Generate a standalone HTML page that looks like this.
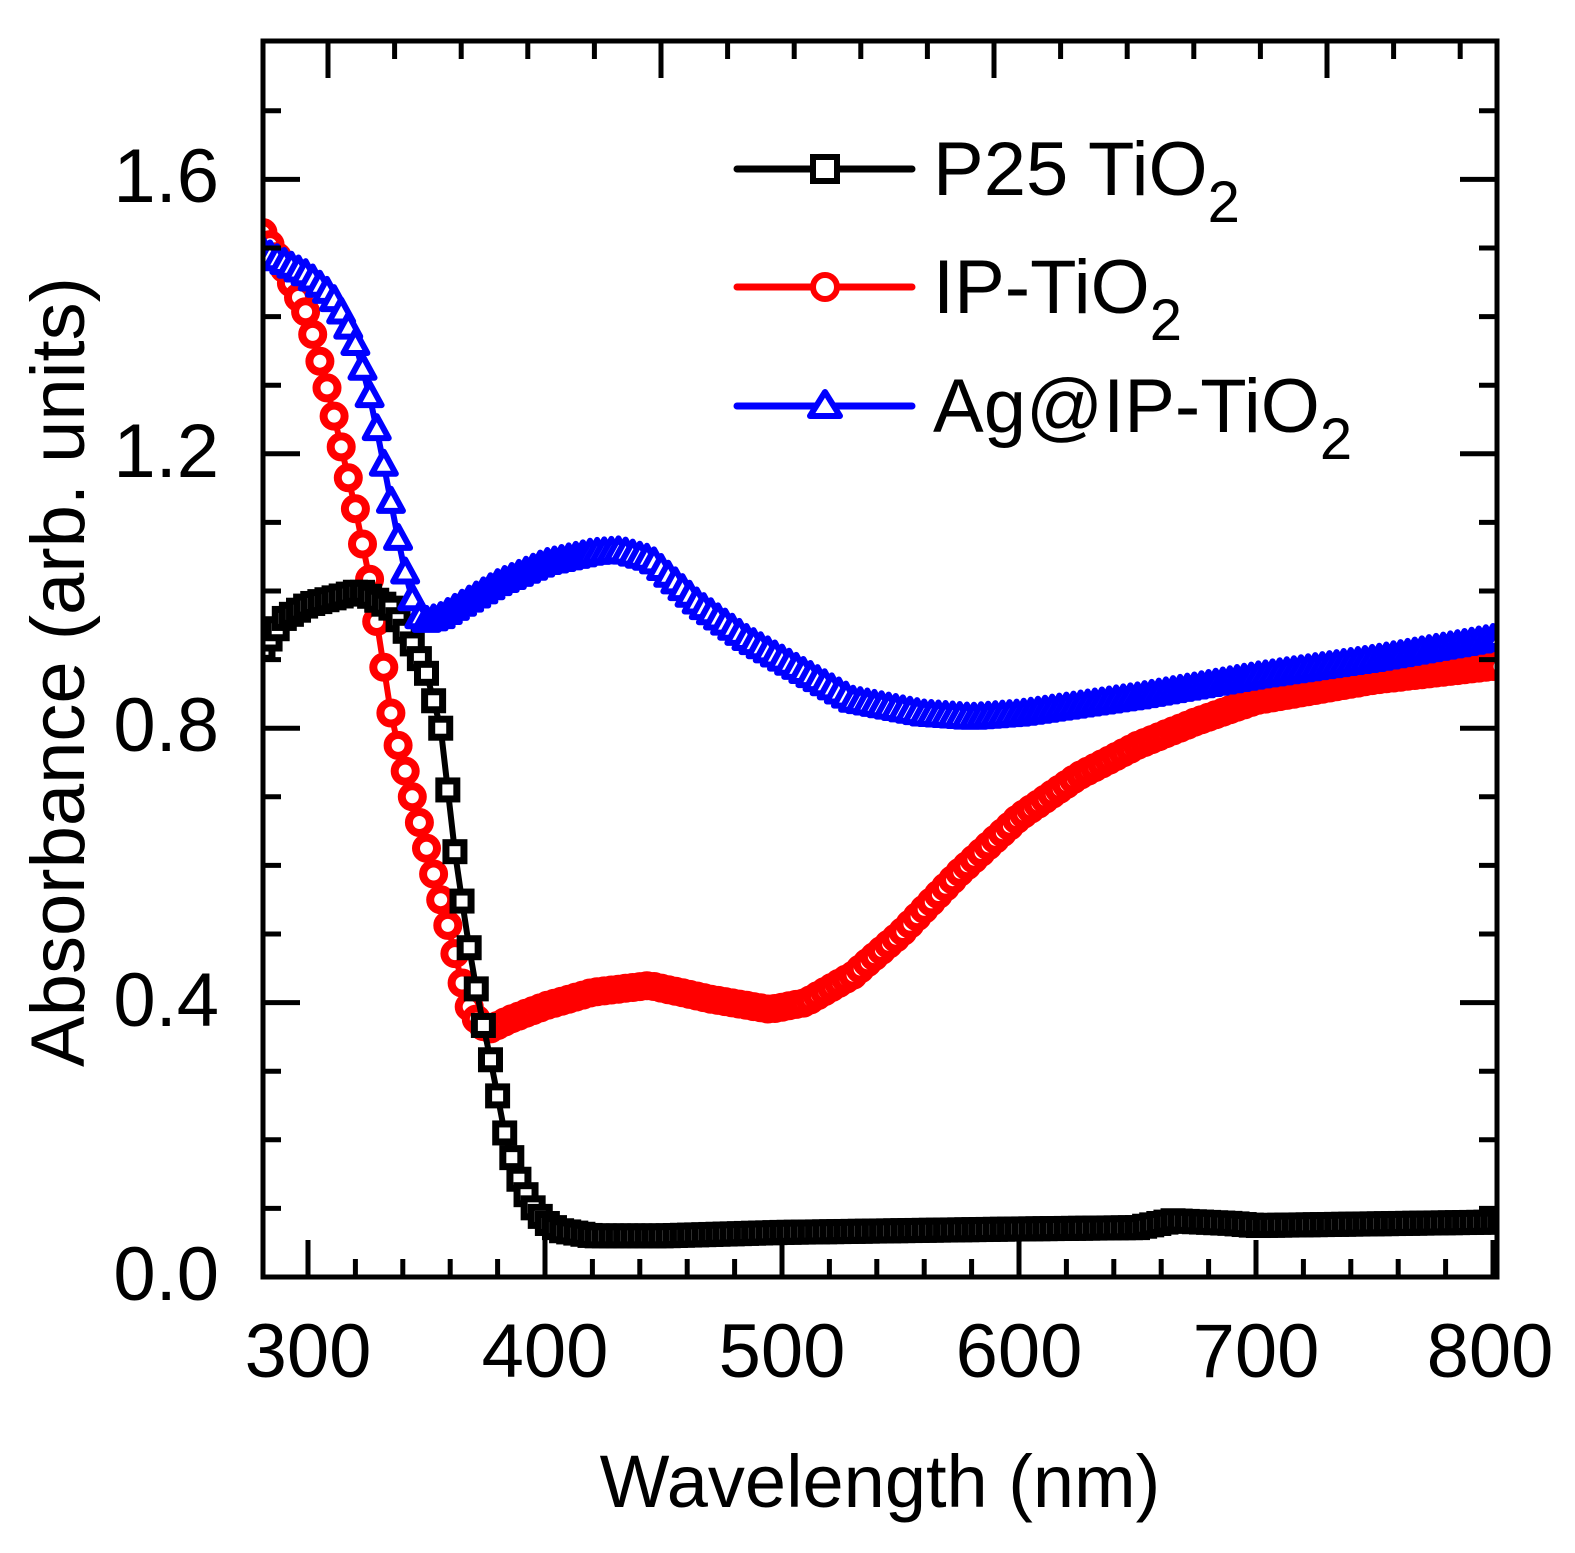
<!DOCTYPE html>
<html><head><meta charset="utf-8"><style>
html,body{margin:0;padding:0;background:#fff}
svg{display:block}
text{font-family:"Liberation Sans",Arial,sans-serif;fill:#000}
</style></head><body>
<svg id="s" width="1575" height="1553" viewBox="0 0 1575 1553" xmlns="http://www.w3.org/2000/svg">
<defs><clipPath id="c"><rect x="263" y="41" width="1234" height="1236"/></clipPath></defs>
<g id="data" clip-path="url(#c)"></g>
<rect x="263" y="41" width="1234" height="1236" fill="none" stroke="#000" stroke-width="5"/>
<g id="ticks" stroke="#000" stroke-width="5"></g>
<g font-size="76" text-anchor="middle">
<text x="308" y="1377">300</text><text x="545" y="1377">400</text><text x="782" y="1377">500</text>
<text x="1019" y="1377">600</text><text x="1256" y="1377">700</text><text x="1490" y="1377">800</text>
</g>
<g font-size="76" text-anchor="end">
<text x="219" y="1300">0.0</text><text x="219" y="1026">0.4</text><text x="219" y="751">0.8</text>
<text x="219" y="477">1.2</text><text x="219" y="202">1.6</text>
</g>
<text x="880" y="1507" font-size="74" text-anchor="middle">Wavelength (nm)</text>
<text transform="translate(84,672) rotate(-90)" font-size="76" text-anchor="middle">Absorbance (arb. units)</text>
<g font-size="76">
<line x1="737" y1="169" x2="912" y2="169" stroke="#000" stroke-width="7" stroke-linecap="round"/>
<rect x="813" y="157" width="24" height="24" fill="#fff" stroke="#000" stroke-width="6"/>
<text x="933" y="195">P25 TiO<tspan font-size="58" dy="27">2</tspan></text>
<line x1="737" y1="287" x2="912" y2="287" stroke="#f00" stroke-width="7" stroke-linecap="round"/>
<circle cx="825" cy="287" r="12" fill="#fff" stroke="#f00" stroke-width="6"/>
<text x="933" y="313">IP-TiO<tspan font-size="58" dy="27">2</tspan></text>
<line x1="737" y1="406" x2="912" y2="406" stroke="#00f" stroke-width="7" stroke-linecap="round"/>
<polygon points="825,392 840,416 810,416" fill="#fff" stroke="#00f" stroke-width="6" stroke-linejoin="round"/>
<text x="933" y="432">Ag@IP-TiO<tspan font-size="58" dy="27">2</tspan></text>
</g>
</svg>
<script>
function X(nm){return 308+(nm-300)*2.37}
function Y(a){return 1277-a*686}
var h='';
for(var v=300;v<=800;v+=20){var x=X(v),L=(v%100==0)?37:18;
h+='<line x1="'+x+'" y1="1277" x2="'+x+'" y2="'+(1277-L)+'"/>';}
for(var j=0;;j++){var x=328+66.6*j;if(x>1490)break;var L=(j%5==0)?37:18;
h+='<line x1="'+x+'" y1="41" x2="'+x+'" y2="'+(41+L)+'"/>';}
for(var i=1;i<=17;i++){var a=i*0.1,y=Y(a),L=(i%4==0)?37:18;
h+='<line x1="263" y1="'+y+'" x2="'+(263+L)+'" y2="'+y+'"/><line x1="1497" y1="'+y+'" x2="'+(1497-L)+'" y2="'+y+'"/>';}
document.getElementById('ticks').innerHTML=h;
var black=[[278,0.90],[290,0.96],[300,0.98],[322,1.0],[335,0.975],[343,0.93],[350,0.88],[356,0.80],[362,0.62],[367,0.50],[372,0.40],[378,0.30],[383,0.21],[388,0.15],[394,0.105],[400,0.08],[406,0.068],[420,0.06],[450,0.06],[500,0.065],[600,0.07],[650,0.072],[665,0.082],[690,0.078],[700,0.075],[800,0.08],[805,0.08]];
var red=[[278,1.54],[290,1.47],[300,1.40],[310,1.27],[320,1.12],[327,1.0],[336,0.8],[344,0.70],[352,0.6],[360,0.50],[367,0.4],[372,0.37],[376,0.36],[385,0.375],[400,0.395],[420,0.415],[444,0.425],[470,0.405],[495,0.39],[510,0.40],[530,0.44],[550,0.50],[575,0.59],[600,0.67],[625,0.73],[650,0.775],[675,0.81],[700,0.84],[750,0.87],[800,0.89],[805,0.89]];
var blue=[[278,1.50],[300,1.46],[310,1.43],[315,1.40],[320,1.36],[325,1.30],[330,1.22],[335,1.13],[340,1.04],[345,0.975],[348,0.955],[355,0.96],[360,0.97],[370,0.99],[380,1.01],[400,1.04],[420,1.055],[432,1.058],[445,1.045],[465,0.98],[485,0.93],[500,0.90],[530,0.84],[560,0.82],[580,0.815],[600,0.82],[650,0.845],[700,0.875],[750,0.90],[800,0.93],[805,0.935]];
function interp(d,nm){for(var i=0;i<d.length-1;i++){if(nm>=d[i][0]&&nm<=d[i+1][0]){var f=(nm-d[i][0])/(d[i+1][0]-d[i][0]);return d[i][1]+f*(d[i+1][1]-d[i][1]);}}return d[d.length-1][1];}
function series(d,col,type){var s='',pts=[];for(var nm=281;nm<=803;nm+=3){pts.push([X(nm),Y(interp(d,nm))]);}
s+='<polyline fill="none" stroke="'+col+'" stroke-width="6" points="'+pts.map(function(p){return p[0].toFixed(1)+','+p[1].toFixed(1)}).join(' ')+'"/>';
pts.forEach(function(p){var x=p[0].toFixed(1),y=p[1].toFixed(1),xn=p[0],yn=p[1];
if(type==0)s+='<rect x="'+(xn-9)+'" y="'+(yn-9)+'" width="18" height="18" fill="#fff" stroke="'+col+'" stroke-width="7"/>';
else if(type==1)s+='<circle cx="'+x+'" cy="'+y+'" r="10.5" fill="#fff" stroke="'+col+'" stroke-width="8"/>';
else s+='<polygon points="'+xn+','+(yn-13)+' '+(xn+12)+','+(yn+9)+' '+(xn-12)+','+(yn+9)+'" fill="#fff" stroke="'+col+'" stroke-width="6" stroke-linejoin="round"/>';});
return s;}
document.getElementById('data').innerHTML=series(red,'#f00',1)+series(black,'#000',0)+series(blue,'#00f',2);
</script>
</body></html>
